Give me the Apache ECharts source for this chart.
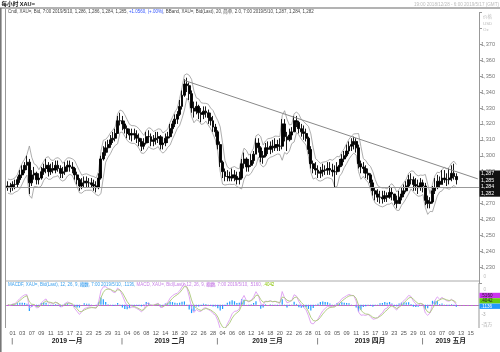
<!DOCTYPE html>
<html><head><meta charset="utf-8">
<script src="https://cdn.jsdelivr.net/npm/echarts/dist/echarts.min.js"></script>
<style>html,body{margin:0;padding:0;background:#fff}#c{width:500px;height:352px}</style>
</head><body><div id="c"></div>
<script>
// ---------- data ----------
const tradingDays = ['12/31',
 '01/01','01/02','01/03','01/04','01/07','01/08','01/09','01/10','01/11','01/14','01/15','01/16','01/17','01/18','01/21','01/22','01/23','01/24','01/25','01/28','01/29','01/30','01/31',
 '02/01','02/04','02/05','02/06','02/07','02/08','02/11','02/12','02/13','02/14','02/15','02/18','02/19','02/20','02/21','02/22','02/25','02/26','02/27','02/28',
 '03/01','03/04','03/05','03/06','03/07','03/08','03/11','03/12','03/13','03/14','03/15','03/18','03/19','03/20','03/21','03/22','03/25','03/26','03/27','03/28','03/29',
 '04/01','04/02','04/03','04/04','04/05','04/08','04/09','04/10','04/11','04/12','04/15','04/16','04/17','04/18','04/19','04/22','04/23','04/24','04/25','04/26','04/29','04/30',
 '05/01','05/02','05/03','05/06','05/07','05/08','05/09','05/10','05/13','05/14','05/15','05/16'];
const months = [['01','2019 一月'],['02','2019 二月'],['03','2019 三月'],['04','2019 四月'],['05','2019 五月']];
// half-day bars (AM, PM)
const firstOpen = 1280;
const lows = [1278,1277,
 1278,1279,1280,1283,1286,1289,1291,1276,1281,1285,1282,1282,1285,1288,1289,1287,1288,1289,1289,1290,1286,1286,1288,1290,1290,1289,1285,1282,1278,1279,1280,1280,1280,1280,1278,1277,1279,1285,1297,1300,1302,1305,1308,1309,1315,1319,
 1316,1314,1311,1310,1309,1310,1308,1306,1303,1304,1307,1308,1306,1306,1307,1308,1304,1304,1306,1308,1311,1314,1318,1320,1325,1329,1337,1340,1335,1327,1324,1326,1323,1321,1323,1324,1320,1319,1315,1312,
 1304,1293,1286,1284,1284,1284,1284,1284,1282,1282,1285,1292,1290,1290,1293,1295,1301,1302,1296,1295,1299,1301,1301,1302,1303,1303,1303,1304,1309,1303,1309,1310,1315,1318,1314,1312,1310,1309,1301,1292,1289,1288,
 1286,1286,1287,1288,1288,1288,1287,1280,1288,1290,1293,1296,1299,1301,1303,1304,1302,1292,1289,1289,1286,1285,1280,1275,1272,1271,1270,1270,1271,1271,1273,1272,1269,1267,1270,1272,1274,1277,1280,1282,1278,1278,1276,1278,
 1277,1269,1267,1267,1270,1276,1279,1280,1282,1283,1281,1282,1284,1285,1282];
const highs = [1284,1283,
 1284,1285,1287,1291,1294,1296,1300,1298,1291,1293,1290,1289,1293,1295,1298,1296,1295,1296,1297,1297,1294,1293,1296,1297,1297,1296,1293,1290,1286,1286,1287,1287,1286,1286,1285,1284,1289,1300,1306,1309,1310,1313,1315,1317,1325,1327,
 1325,1322,1319,1317,1317,1317,1316,1314,1311,1311,1315,1316,1314,1313,1315,1315,1313,1312,1314,1315,1320,1322,1326,1328,1335,1341,1348,1349,1346,1341,1334,1334,1332,1330,1331,1331,1329,1327,1325,1320,
 1316,1309,1297,1292,1291,1290,1292,1291,1290,1290,1298,1302,1299,1298,1301,1303,1311,1311,1306,1303,1308,1309,1309,1310,1311,1310,1311,1323,1323,1315,1317,1318,1325,1325,1322,1320,1319,1317,1312,1306,1297,1296,
 1294,1293,1295,1294,1296,1296,1295,1294,1296,1298,1301,1303,1307,1309,1311,1312,1311,1307,1297,1296,1294,1292,1289,1285,1280,1279,1278,1278,1278,1277,1281,1280,1276,1275,1278,1280,1282,1284,1288,1289,1287,1286,1285,1286,
 1285,1283,1275,1274,1281,1286,1288,1287,1291,1291,1289,1292,1294,1295,1289];
const closes = [1281,1280,
 1282,1282,1285,1288,1291,1294,1296,1283,1288,1289,1285,1286,1290,1292,1294,1290,1292,1291,1294,1292,1289,1290,1293,1294,1293,1292,1288,1285,1281,1283,1284,1283,1283,1282,1281,1280,1286,1298,1302,1305,1307,1310,1311,1314,1322,1322,
 1320,1317,1314,1313,1314,1313,1311,1309,1306,1308,1312,1312,1309,1310,1311,1312,1307,1308,1311,1312,1317,1320,1323,1326,1331,1338,1345,1344,1339,1330,1328,1331,1327,1326,1328,1327,1324,1322,1318,1315,
 1307,1296,1290,1287,1287,1286,1288,1287,1285,1286,1295,1298,1293,1294,1297,1301,1308,1305,1299,1300,1305,1304,1306,1305,1307,1306,1306,1320,1312,1310,1313,1315,1322,1321,1317,1315,1314,1311,1304,1295,1292,1291,
 1289,1290,1291,1291,1292,1291,1290,1290,1293,1294,1298,1300,1303,1306,1307,1309,1305,1295,1293,1292,1289,1288,1283,1278,1276,1274,1274,1273,1275,1274,1277,1276,1272,1270,1274,1276,1278,1281,1285,1285,1282,1281,1280,1283,
 1281,1272,1270,1271,1278,1280,1284,1282,1286,1285,1285,1286,1289,1287,1285];
const supportLevel = 1280.5;
const trendLine = [['02/20 AM', 1347.3], ['05/16 PM', 1285.5]];
const yTicks = [1230,1240,1250,1260,1270,1290,1300,1310,1320,1330,1340,1350,1360,1370];
const lastValues = ['1,287','1,285','1,284','1,282'];
const macdValues = ['.5160','.4042','.1136'];

// ---------- derived ----------
const cats = [];
tradingDays.forEach(d => { cats.push(d + ' AM'); cats.push(d + ' PM'); });
const ohlc = closes.map((c, i) => [i === 0 ? firstOpen : closes[i - 1], c, lows[i], highs[i]]);
const W = 2, K = 1.8;
const bbUp = [], bbLo = [];
for (let i = 0; i < closes.length; i++) {
  const pool = [];
  for (let j = Math.max(0, i - W + 1); j <= i; j++) pool.push(lows[j], highs[j], closes[j]);
  const m = pool.reduce((a, b) => a + b, 0) / pool.length;
  const sd = Math.sqrt(pool.reduce((a, b) => a + (b - m) * (b - m), 0) / pool.length);
  bbUp.push(+(m + K * sd).toFixed(2)); bbLo.push(+(m - K * sd).toFixed(2));
}
const aF = 0.6, aS = 0.33, aG = 0.5;
let ef = closes[0], es = closes[0], sg = 0;
const macd = [], sig = [], hist = [];
closes.forEach(c => {
  ef += aF * (c - ef); es += aS * (c - es);
  const m = ef - es; sg += aG * (m - sg);
  macd.push(+m.toFixed(3)); sig.push(+sg.toFixed(3)); hist.push(+(m - sg).toFixed(3));
});

// ---------- chart ----------
const FF = 'Liberation Sans, Noto Sans CJK SC, sans-serif';
const chart = echarts.init(document.getElementById('c'));
const GL = 6.7, GR = 21;
chart.setOption({
  animation: false,
  grid: [
    {left: GL, right: GR, top: 12.4, height: 270.8},
    {left: GL, right: GR, top: 282, height: 45.5}
  ],
  xAxis: [
    {gridIndex: 0, type: 'category', data: cats, boundaryGap: true,
     axisLine: {show: false}, axisTick: {show: false}, axisLabel: {show: false}, splitLine: {show: false}},
    {gridIndex: 1, type: 'category', data: cats, boundaryGap: true,
     axisLine: {lineStyle: {color: '#999', width: 1}}, axisTick: {show: false},
     axisLabel: {
       interval: (idx) => { const d = idx / 2; return idx % 2 === 0 && d >= 1 && (d - 1) % 2 === 0; },
       formatter: v => v.slice(3, 5), fontSize: 5.6, color: '#555', fontFamily: FF, margin: 3
     }, splitLine: {show: false}}
  ],
  yAxis: [
    {gridIndex: 0, type: 'value', position: 'right', min: 1220, max: 1390, interval: 10,
     axisLine: {show: true, lineStyle: {color: '#999'}},
     axisTick: {show: true, length: 3, lineStyle: {color: '#999'}},
     axisLabel: {formatter: v => yTicks.includes(v) ? v.toLocaleString('en-US') : '', fontSize: 5.6, color: '#777', fontFamily: FF, margin: 2},
     splitLine: {show: false}},
    {gridIndex: 1, type: 'value', position: 'right', min: -7, max: 7, show: false}
  ],
  series: [
    {type: 'line', name: 'bbUp', data: bbUp, xAxisIndex: 0, yAxisIndex: 0, symbol: 'none', z: 1,
     lineStyle: {color: '#999', width: 0.8}},
    {type: 'line', name: 'bbLo', data: bbLo, xAxisIndex: 0, yAxisIndex: 0, symbol: 'none', z: 1,
     lineStyle: {color: '#999', width: 0.8}},
    {type: 'candlestick', data: ohlc, xAxisIndex: 0, yAxisIndex: 0, barWidth: 2.4, z: 3,
     itemStyle: {color: '#000', color0: '#000', borderColor: '#000', borderColor0: '#000', borderWidth: 0.9},
     markLine: {silent: true, symbol: ['none', 'none'], label: {show: false}, animation: false,
       data: [
         {yAxis: supportLevel, lineStyle: {color: '#999', width: 1, type: 'solid'}},
         [{coord: trendLine[0]}, {coord: trendLine[1], lineStyle: {color: '#888', width: 1, type: 'solid'}}]
       ]}},
    {type: 'bar', data: hist, xAxisIndex: 1, yAxisIndex: 1, barWidth: 1.2, itemStyle: {color: '#1e9bff'}, z: 2,
     markLine: {silent: true, symbol: ['none', 'none'], label: {show: false},
       data: [{yAxis: 0}], lineStyle: {color: '#e040fb', width: 0.8, type: [2, 2]}}},
    {type: 'line', data: macd, xAxisIndex: 1, yAxisIndex: 1, symbol: 'none', z: 3,
     lineStyle: {color: '#dc9cf2', width: 0.9}},
    {type: 'line', data: sig, xAxisIndex: 1, yAxisIndex: 1, symbol: 'none', z: 3,
     lineStyle: {color: '#aac878', width: 0.9}}
  ]
});

// ---------- decorations ----------
const g = [];
const txt = (x, y, text, o) => g.push(Object.assign({type: 'text', x, y, z: 50,
  style: Object.assign({text, fontFamily: FF, fontSize: 5, fill: '#444', verticalAlign: 'middle', align: 'left'}, o || {})}));
const line = (x1, y1, x2, y2, stroke, w) => g.push({type: 'line', z: 40, shape: {x1, y1, x2, y2}, style: {stroke, lineWidth: w}});
const rect = (x, y, w, h, fill) => g.push({type: 'rect', z: 45, shape: {x, y, width: w, height: h}, style: {fill}});

line(0, 8, 500, 8, '#9a9a9a', 1.5);
line(0.8, 8, 0.8, 352, '#777', 1.6);
line(5.5, 9, 5.5, 328, '#999', 1);
line(5.5, 281, 479, 281, '#aaa', 1);
line(479, 283, 479, 328, '#999', 1);
txt(1.5, 4.3, '每小时 XAU=', {fontSize: 5.6, fontWeight: 'bold', fill: '#111'});
txt(499, 4.8, '19:00 2018/12/28 - 6:00 2019/5/17 (GMT)', {fontSize: 4.6, fill: '#bbb', align: 'right'});
const LF = 4.45;
txt(8, 11.8, '{a|Cndl, XAU=, Bid, 7:00 2019/5/10, 1,286, 1,286, 1,284, 1,285, }{b|+1.0560, (+.00%)}{a|, BBand, XAU=, Bid(Last), 20, 简单, 2.0, 7:00 2019/5/10, 1,287, 1,284, 1,282}',
  {rich: {a: {fontSize: LF, fill: '#444', fontFamily: FF}, b: {fontSize: LF, fill: '#3355ff', fontFamily: FF}}});
txt(8, 284.6, '{c|MACDF, XAU=, Bid(Last), 12, 26, 9, }{ch|指数}{c|, 7:00 2019/5/10, .1136, }{m|MACD, XAU=, Bid(Last), 12, 26, 9, }{mh|指数}{m|, 7:00 2019/5/10, .5160, }{gr|.4042}',
  {rich: {c: {fontSize: LF, fill: '#3aa0ee', fontFamily: FF}, ch: {fontSize: LF, fill: '#3aa0ee', backgroundColor: '#cfe6fb', fontFamily: FF},
          m: {fontSize: LF, fill: '#c77ee6', fontFamily: FF}, mh: {fontSize: LF, fill: '#c77ee6', backgroundColor: '#ecd4f6', fontFamily: FF},
          gr: {fontSize: LF, fill: '#88c400', fontFamily: FF}}});
txt(483, 16.8, '价格', {fontSize: 4.4, fill: '#bbb'});
txt(483, 23.3, 'USD', {fontSize: 4.4, fill: '#bbb'});
txt(483, 29.8, 'Oz', {fontSize: 4.4, fill: '#bbb'});
rect(479.5, 170.5, 20.5, 26.2, '#111');
[173.6, 180.5, 187, 193.5].forEach((y, i) => txt(481, y, lastValues[i], {fontSize: 5.3, fill: '#fff'}));
txt(483.5, 276.7, '0', {fontSize: 4.6, fill: '#bbb'});
txt(483.5, 289.3, '0', {fontSize: 4.6, fill: '#bbb'});
const mcol = ['#cc33ee', '#66cc11', '#2299ff'];
[292.8, 298.2, 303.6].forEach((y, i) => { rect(479.5, y, 20.5, 5.3, mcol[i]); txt(481, y + 2.7, macdValues[i], {fontSize: 4.6, fill: i === 2 ? '#fff' : '#222'}); });
txt(481.5, 315, '-3', {fontSize: 4.6, fill: '#aaa'});
txt(481.5, 324.3, '-百万', {fontSize: 4.6, fill: '#aaa'});

// month labels and separators from the axis scale
const px = c => chart.convertToPixel({xAxisIndex: 1}, c);
const right = 500 - GR;
months.forEach((m, k) => {
  const first = tradingDays.find(d => d.startsWith(m[0] + '/'));
  const start = px(first + ' AM') - 0.4;
  let end = right;
  if (k + 1 < months.length) { const nf = tradingDays.find(d => d.startsWith(months[k + 1][0] + '/')); end = px(nf + ' AM') - 0.4; }
  line(start, 338, start, 344.5, '#666', 0.8);
  txt((start + end) / 2, 341, m[1], {fontSize: 6.8, fontWeight: 'bold', fill: '#222', align: 'center'});
});
chart.setOption({graphic: g});
</script></body></html>
